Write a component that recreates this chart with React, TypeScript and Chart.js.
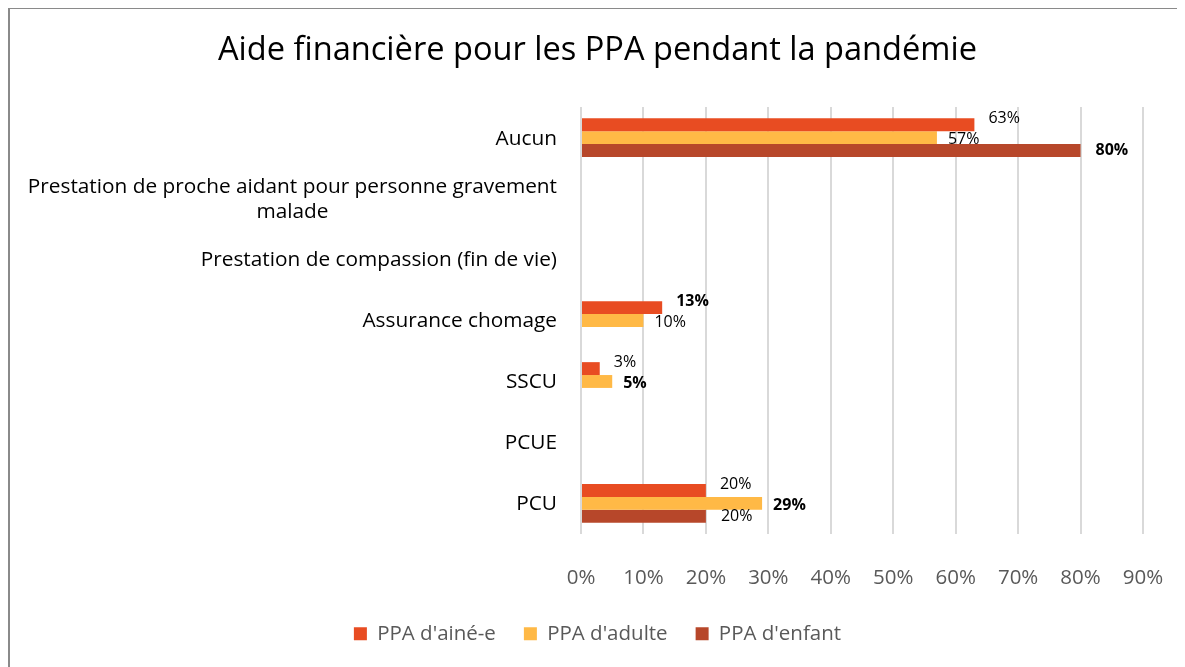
import React, { useEffect, useRef } from "react";
import { Chart, registerables } from "chart.js";

Chart.register(...registerables);

const titleText = "Aide financière pour les PPA pendant la pandémie";
const categories: string[][] = [
  ["Aucun"],
  ["Prestation de proche aidant pour personne gravement", "malade"],
  ["Prestation de compassion (fin de vie)"],
  ["Assurance chomage"],
  ["SSCU"],
  ["PCUE"],
  ["PCU"],
];
const seriesNames = ["PPA d'ainé-e", "PPA d'adulte", "PPA d'enfant"];
const aineValues: (number | null)[] = [63, null, null, 13, 3, null, 20];
const adulteValues: (number | null)[] = [57, null, null, 10, 5, null, 29];
const enfantValues: (number | null)[] = [80, null, null, null, null, null, 20];
const xTickValues = [0, 10, 20, 30, 40, 50, 60, 70, 80, 90];

const seriesColors = ["#E84C22", "#FFB946", "#B7472A"];
const labelNudges = [
  { dx: 14, dy: -6 },
  { dx: 11, dy: 2 },
  { dx: 15, dy: 0 },
];
const FONT = '"Open Sans", "Noto Sans", "DejaVu Sans", sans-serif';

const allSeries = [aineValues, adulteValues, enfantValues];

const categoryLabelPlugin = {
  id: "categoryLabels",
  afterDraw(chart: any) {
    const ctx = chart.ctx;
    const yScale = chart.scales.y;
    const area = chart.chartArea;
    ctx.save();
    ctx.font = `20.8px ${FONT}`;
    ctx.fillStyle = "#000000";
    ctx.textBaseline = "middle";
    const right = area.left - 24;
    const lh = 25;
    categories.forEach((lines, i) => {
      const cy = yScale.getPixelForValue(i) + 1;
      const widest = Math.max(...lines.map((l) => ctx.measureText(l).width));
      lines.forEach((line, j) => {
        const ly = cy + (j - (lines.length - 1) / 2) * lh;
        if (j === 0) {
          ctx.textAlign = "right";
          ctx.fillText(line, right, ly);
        } else {
          ctx.textAlign = "center";
          ctx.fillText(line, right - widest / 2, ly);
        }
      });
    });
    ctx.restore();
  },
};

const valueLabelPlugin = {
  id: "valueLabels",
  afterDatasetsDraw(chart: any) {
    const ctx = chart.ctx;
    ctx.save();
    ctx.fillStyle = "#000000";
    ctx.textBaseline = "middle";
    ctx.textAlign = "left";
    chart.data.datasets.forEach((ds: any, di: number) => {
      const meta = chart.getDatasetMeta(di);
      meta.data.forEach((el: any, i: number) => {
        const v = ds.data[i];
        if (v === null || v === undefined) return;
        const catVals = allSeries.map((s) => s[i] ?? -1);
        const isMax = v === Math.max(...catVals);
        ctx.font = `${isMax ? "bold " : ""}16px ${FONT}`;
        const n = labelNudges[di];
        ctx.fillText(`${v}%`, el.x + n.dx, el.y + n.dy);
      });
    });
    ctx.restore();
  },
};

export default function App() {
  const ref = useRef<HTMLCanvasElement | null>(null);
  useEffect(() => {
    if (!ref.current) return;
    const chart = new Chart(ref.current, {
      type: "bar",
      data: {
        labels: categories,
        datasets: seriesNames.map((name, i) => ({
          label: name,
          data: allSeries[i],
          backgroundColor: seriesColors[i],
          borderWidth: 0,
          categoryPercentage: 0.634,
          barPercentage: 1,
        })),
      },
      options: {
        indexAxis: "y",
        responsive: false,
        animation: false,
        devicePixelRatio: 1,
        layout: { padding: { left: 0, right: 0, top: 0, bottom: 13 } },
        plugins: {
          title: {
            display: true,
            text: titleText,
            color: "#000000",
            font: { family: FONT, size: 32.6, weight: 400 },
            padding: { top: 22, bottom: 37 },
          },
          legend: {
            position: "bottom",
            labels: {
              boxWidth: 13,
              boxHeight: 13,
              padding: 28,
              color: "#595959",
              font: { family: FONT, size: 20.5 },
            },
          },
          tooltip: { enabled: false },
        },
        scales: {
          x: {
            min: 0,
            max: 90,
            afterBuildTicks: (scale: any) => {
              scale.ticks = xTickValues.map((v) => ({ value: v }));
            },
            ticks: {
              padding: 5,
              color: "#595959",
              font: { family: FONT, size: 20.5 },
              callback: (v: any) => `${v}%`,
            },
            grid: {
              color: "#d9d9d9",
              lineWidth: 2,
              drawTicks: true,
              tickLength: 27,
              tickColor: "rgba(0,0,0,0)",
            },
            border: { display: false },
          },
          y: {
            display: true,
            ticks: { display: false },
            grid: { display: false },
            border: { display: false },
            afterFit: (scale: any) => {
              scale.width = 571;
            },
          },
          yRight: {
            axis: "y",
            position: "right",
            display: true,
            ticks: { display: false },
            grid: { display: false },
            border: { display: false },
            afterFit: (scale: any) => {
              scale.width = 42;
            },
          },
        },
      },
      plugins: [categoryLabelPlugin, valueLabelPlugin],
    });
    return () => chart.destroy();
  }, []);
  return (
    <div
      style={{
        width: 1177,
        height: 659,
        boxSizing: "border-box",
        borderLeft: "2px solid #8a8a8a",
        borderTop: "1px solid #8a8a8a",
        background: "#ffffff",
        overflow: "hidden",
      }}
    >
      <canvas ref={ref} width={1175} height={658} style={{ display: "block" }} />
    </div>
  );
}
